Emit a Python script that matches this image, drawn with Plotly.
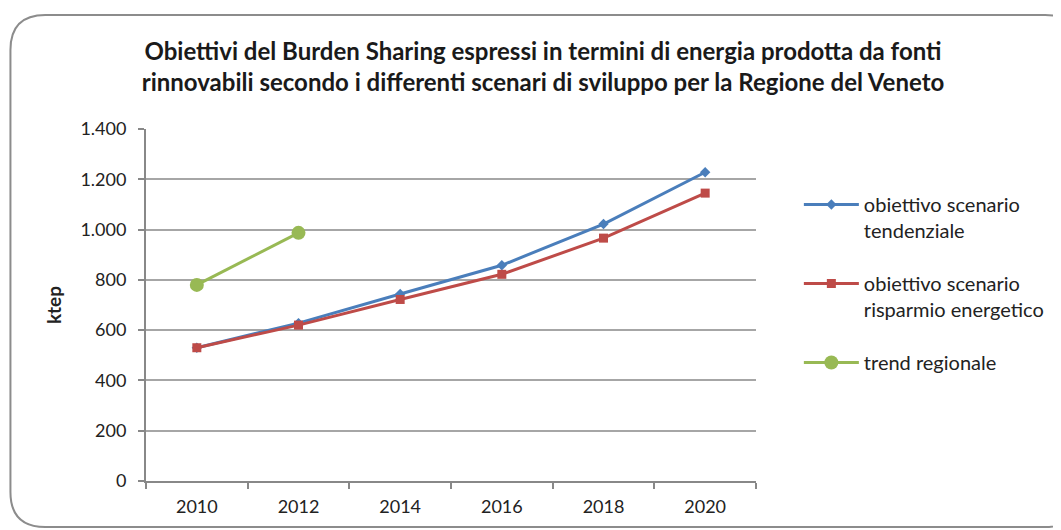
import plotly.graph_objects as go

years = ["2010", "2012", "2014", "2016", "2018", "2020"]
tendenziale = [530, 628, 744, 858, 1022, 1228]
risparmio = [530, 620, 722, 822, 966, 1145]
trend_years = ["2010", "2012"]
trend = [780, 987]

# page has an 8px body margin, so figure coordinates = page coordinates - 8
W, H = 1053, 522
L, R, T, B = 138, 750, 121, 473

fig = go.Figure()
fig.add_trace(go.Scatter(x=years, y=tendenziale, mode="lines+markers",
                         name="obiettivo scenario<br>tendenziale", legendgroup="a",
                         line=dict(color="#4A7EBB", width=3),
                         marker=dict(symbol="diamond", size=8, color="#4A7EBB")))
fig.add_trace(go.Scatter(x=years, y=risparmio, mode="lines+markers",
                         name="obiettivo scenario<br>risparmio energetico", legendgroup="b",
                         line=dict(color="#BE4B48", width=3),
                         marker=dict(symbol="square", size=9, color="#BE4B48")))
fig.add_trace(go.Scatter(x=trend_years, y=trend, mode="lines+markers",
                         name="trend regionale", legendgroup="c",
                         line=dict(color="#98B954", width=3),
                         marker=dict(symbol="circle", size=14, color="#98B954")))


def px(x):
    return (x - L) / (R - L)


def py(y):
    return (B - y) / (B - T)


# rounded frame around the chart (decoration)
x0, y0, x1, y1, r = 2, 7, 1075, 519, 35
path = (f"M {px(x0+r)},{py(y0)} L {px(x1-r)},{py(y0)} Q {px(x1)},{py(y0)} {px(x1)},{py(y0+r)} "
        f"L {px(x1)},{py(y1-r)} Q {px(x1)},{py(y1)} {px(x1-r)},{py(y1)} "
        f"L {px(x0+r)},{py(y1)} Q {px(x0)},{py(y1)} {px(x0)},{py(y1-r)} "
        f"L {px(x0)},{py(y0+r)} Q {px(x0)},{py(y0)} {px(x0+r)},{py(y0)} Z")

fig.update_layout(
    width=W, height=H,
    margin=dict(l=L, r=W - R, t=T, b=H - B),
    paper_bgcolor="white", plot_bgcolor="white",
    separators=",.",
    font=dict(family="Lato, 'Open Sans', sans-serif", size=18, color="#222222"),
    title=dict(text="<b>Obiettivi del Burden Sharing espressi in termini di energia prodotta da fonti<br>"
                    "rinnovabili secondo i differenti scenari di sviluppo per la Regione del Veneto</b>",
               x=535 / W, xanchor="center", y=1 - 51.5 / H, yanchor="middle",
               font=dict(size=24, color="#1a1a1a")),
    xaxis=dict(type="category", tickson="boundaries", ticks="outside", ticklen=6,
               tickcolor="#888888", tickwidth=2, showline=True, linecolor="#888888",
               linewidth=2, showgrid=False, range=[-0.5, 5.5], fixedrange=True,
               ticklabelstandoff=8, tickfont=dict(size=18)),
    yaxis=dict(range=[0, 1400], dtick=200, tickformat=",d", ticks="outside", ticklen=6,
               tickcolor="#888888", tickwidth=2, showline=True, linecolor="#888888",
               linewidth=2, showgrid=True, gridcolor="#A6A6A6", gridwidth=1.5,
               zeroline=False, ticklabelstandoff=8,
               title=dict(text="<b>ktep</b>", font=dict(size=19), standoff=14),
               tickfont=dict(size=18)),
    legend=dict(x=(793 - L) / (R - L), xanchor="left", y=py(177), yanchor="top",
                valign="top", tracegroupgap=24, itemwidth=55,
                font=dict(size=20, color="#222222"),
                bgcolor="rgba(0,0,0,0)"),
    shapes=[dict(type="path", path=path, xref="paper", yref="paper",
                 line=dict(color="#8C8C8C", width=2), layer="below")],
    showlegend=True,
)

fig.write_html("out.html")
